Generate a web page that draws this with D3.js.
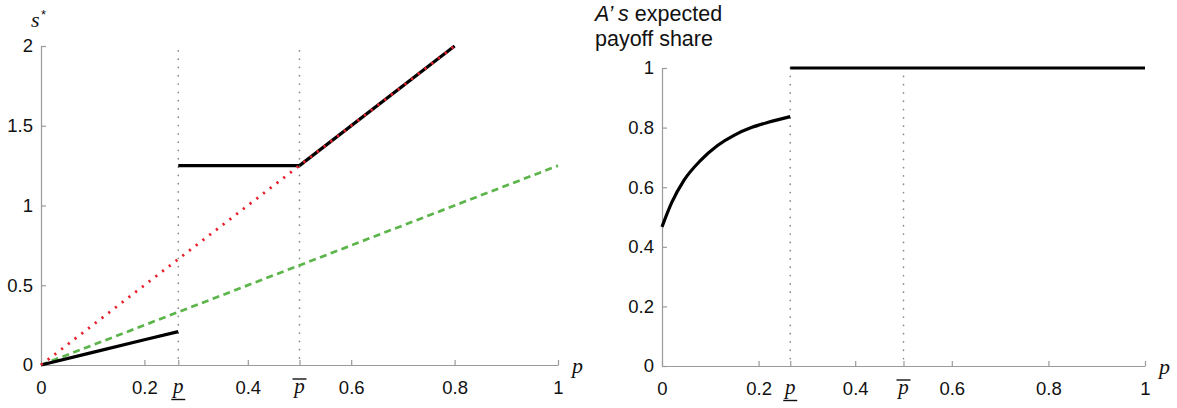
<!DOCTYPE html>
<html>
<head>
<meta charset="utf-8">
<script src="https://cdn.jsdelivr.net/npm/d3@7"></script>
<style>
  body { margin: 0; background: #fff; }
  svg text { font-family: "Liberation Sans", Arial, sans-serif; fill: #111; }
  .axis path, .axis line { stroke: #9a9a9a; stroke-width: 1.2; }
  .axis text { font-size: 18.5px; }
  .math { font-family: "Liberation Serif", "Times New Roman", serif; font-style: italic; }
</style>
</head>
<body>
<div id="chart"></div>
<script>
const pLow = 0.2655, pHigh = 0.5;
const xTicks = [0, 0.2, 0.4, 0.6, 0.8, 1];
const yTicksLeft = [0, 0.5, 1, 1.5, 2];
const yTicksRight = [0, 0.2, 0.4, 0.6, 0.8, 1];

// left panel: s* against p
const sLowP = [0, 0.1, 0.2, pLow];
const sLowV = [0, 0.079, 0.158, 0.209];
const sMidP = [pLow, pHigh];
const sMidV = [1.25, 1.25];
const sHighP = [pHigh, 0.8];
const sHighV = [1.25, 2];
const redP = [0, 0.8];
const redV = [0, 2];
const greenP = [0, 1];
const greenV = [0, 1.25];

// right panel: A's expected payoff share
const shareP = [0, 0.02, 0.045, 0.08, 0.115, 0.15, 0.185, 0.22, pLow];
const shareV = [0.467, 0.548, 0.622, 0.690, 0.740, 0.775, 0.800, 0.818, 0.837];
const shareTopP = [pLow, 1];
const shareTopV = [1, 1];

const svg = d3.select('#chart')
  .append('svg')
  .attr('width', 1177)
  .attr('height', 408);

const xL = d3.scaleLinear().domain([0, 1]).range([41, 558]);
const yL = d3.scaleLinear().domain([0, 2]).range([365, 46]);
const xR = d3.scaleLinear().domain([0, 1]).range([662, 1145]);
const yR = d3.scaleLinear().domain([0, 1]).range([366, 68]);

const zip = (ps, vs) => ps.map((p, i) => [p, vs[i]]);
const fmt = d => String(d);

function drawPanel(x, y, yTicks, yTop) {
  const g = svg.append('g');

  // dotted guides at p_ and p-bar
  g.selectAll('line.guide')
    .data([pLow, pHigh])
    .enter()
    .append('line')
    .attr('class', 'guide')
    .attr('x1', d => x(d)).attr('x2', d => x(d))
    .attr('y1', y(yTop)).attr('y2', y(0))
    .attr('stroke', '#8a8a8a')
    .attr('stroke-width', 1.7)
    .attr('stroke-linecap', 'round')
    .attr('stroke-dasharray', '0.1,8.2');

  const xAxis = d3.axisBottom(x)
    .tickValues(xTicks.concat([pLow, pHigh]))
    .tickFormat(d => xTicks.includes(d) ? fmt(d) : '')
    .tickSizeInner(-5)
    .tickSizeOuter(0)
    .tickPadding(16);
  g.append('g')
    .attr('class', 'axis')
    .attr('transform', `translate(0,${y(0)})`)
    .call(xAxis);

  const yAxis = d3.axisLeft(y)
    .tickValues(yTicks)
    .tickFormat(fmt)
    .tickSizeInner(-5)
    .tickSizeOuter(0)
    .tickPadding(8);
  g.append('g')
    .attr('class', 'axis')
    .attr('transform', `translate(${x(0)},0)`)
    .call(yAxis);

  // p_ and p-bar labels
  const base = y(0) + 28;
  g.append('text').attr('class', 'math')
    .attr('x', x(pLow)).attr('y', base)
    .attr('text-anchor', 'middle').style('font-size', '21px').text('p');
  g.append('line')
    .attr('x1', x(pLow) - 7).attr('x2', x(pLow) + 7)
    .attr('y1', base + 6.5).attr('y2', base + 6.5)
    .attr('stroke', '#111').attr('stroke-width', 1.4);
  g.append('text').attr('class', 'math')
    .attr('x', x(pHigh)).attr('y', base)
    .attr('text-anchor', 'middle').style('font-size', '21px').text('p');
  g.append('line')
    .attr('x1', x(pHigh) - 7).attr('x2', x(pHigh) + 7)
    .attr('y1', base - 14).attr('y2', base - 14)
    .attr('stroke', '#111').attr('stroke-width', 1.4);

  // axis variable p
  g.append('text').attr('class', 'math')
    .attr('x', x(1) + 14).attr('y', y(0) + 8)
    .style('font-size', '22px').text('p');

  return g;
}

const line = (x, y) => d3.line().x(d => x(d[0])).y(d => y(d[1]));

// ---- left panel
const gL = drawPanel(xL, yL, yTicksLeft, 1.97);

gL.append('path')
  .datum(zip(greenP, greenV))
  .attr('d', line(xL, yL))
  .attr('fill', 'none')
  .attr('stroke', '#5cb54a')
  .attr('stroke-width', 2.7)
  .attr('stroke-dasharray', '7,4.5');

[zip(sLowP, sLowV), zip(sMidP, sMidV), zip(sHighP, sHighV)].forEach(seg => {
  gL.append('path')
    .datum(seg)
    .attr('d', line(xL, yL))
    .attr('fill', 'none')
    .attr('stroke', '#000')
    .attr('stroke-width', 3.2);
});

gL.append('path')
  .datum(zip(redP, redV))
  .attr('d', line(xL, yL))
  .attr('fill', 'none')
  .attr('stroke', '#e8202a')
  .attr('stroke-width', 2.8)
  .attr('stroke-dasharray', '2.2,6.3');

gL.append('text').attr('class', 'math')
  .attr('x', 31).attr('y', 27)
  .style('font-size', '22px').text('s');
gL.append('text')
  .attr('x', 41).attr('y', 19)
  .style('font-size', '13px').text('*');

// ---- right panel
const gR = drawPanel(xR, yR, yTicksRight, 1);

gR.append('path')
  .datum(zip(shareP, shareV))
  .attr('d', line(xR, yR).curve(d3.curveMonotoneX))
  .attr('fill', 'none')
  .attr('stroke', '#000')
  .attr('stroke-width', 3.2);

gR.append('path')
  .datum(zip(shareTopP, shareTopV))
  .attr('d', line(xR, yR))
  .attr('fill', 'none')
  .attr('stroke', '#000')
  .attr('stroke-width', 3.2);

const title = gR.append('text')
  .attr('x', 595).attr('y', 21)
  .style('font-size', '21.5px');
title.append('tspan').style('font-style', 'italic').text('A\u2019 s');
title.append('tspan').text(' expected');
gR.append('text')
  .attr('x', 595).attr('y', 46)
  .style('font-size', '21.5px')
  .text('payoff share');
</script>
</body>
</html>
